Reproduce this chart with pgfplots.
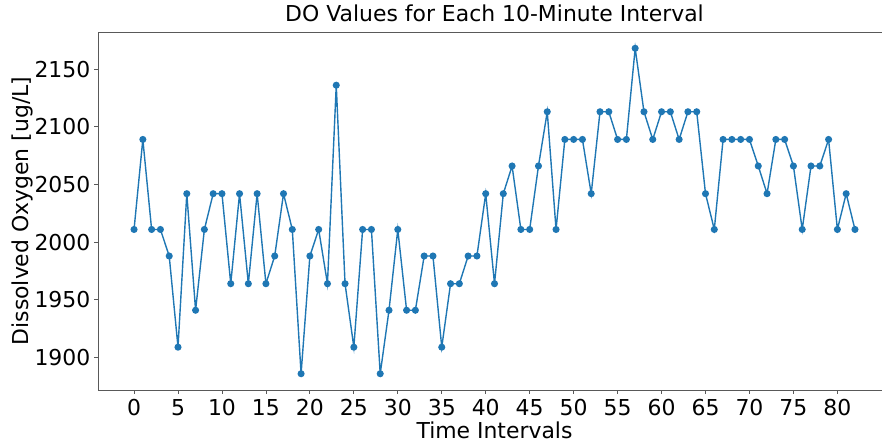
\documentclass[border=0pt]{standalone}
\usepackage{fontspec}
\setmainfont{DejaVu Sans}
\usepackage{pgfplots}
\pgfplotsset{compat=1.18}
\definecolor{mplblue}{HTML}{1F77B4}
\definecolor{spine}{gray}{0.35}
\begin{document}
\begin{tikzpicture}
\begin{axis}[
  at={(0,0)}, anchor=south west,
  scale only axis,
  width=793bp, height=358bp,
  xmin=-4.1, xmax=86.1,
  ymin=1871.9, ymax=2182.1,
  xtick={0,5,...,80},
  ytick={1900,1950,...,2150},
  tick align=outside,
  xtick pos=bottom, ytick pos=left,
  major tick length=3.5bp,
  tick style={spine, line width=0.8bp},
  axis line style={spine, line width=0.8bp},
  /pgf/number format/assume math mode=true,
  /pgf/number format/1000 sep={},
  ticklabel style={font=\fontsize{22}{26}\selectfont},
  xticklabel style={inner sep=0pt, anchor=north, yshift=-6bp},
  yticklabel style={inner sep=0pt, anchor=east, xshift=-4bp},
  title={DO Values for Each 10-Minute Interval},
  title style={font=\fontsize{22}{26}\selectfont, at={(axis description cs:0.5,1)}, anchor=base, inner sep=0pt, yshift=5bp},
  xlabel={Time Intervals},
  xlabel style={font=\fontsize{22}{26}\selectfont, at={(axis description cs:0.5,0)}, anchor=base, inner sep=0pt, yshift=-48bp},
  ylabel={Dissolved Oxygen [ug/L]},
  ylabel style={font=\fontsize{22}{26}\selectfont, at={(axis description cs:0,0.5)}, anchor=south, inner sep=0pt, yshift=65bp},
]
\addplot[mplblue, line width=1.4bp, mark=*, mark size=2.8bp, mark options={solid, fill=mplblue, draw=mplblue}] table {
x y
0 2011
1 2089
2 2011
3 2011
4 1988
5 1909
6 2042
7 1941
8 2011
9 2042
10 2042
11 1964
12 2042
13 1964
14 2042
15 1964
16 1988
17 2042
18 2011
19 1886
20 1988
21 2011
22 1964
23 2136
24 1964
25 1909
26 2011
27 2011
28 1886
29 1941
30 2011
31 1941
32 1941
33 1988
34 1988
35 1909
36 1964
37 1964
38 1988
39 1988
40 2042
41 1964
42 2042
43 2066
44 2011
45 2011
46 2066
47 2113
48 2011
49 2089
50 2089
51 2089
52 2042
53 2113
54 2113
55 2089
56 2089
57 2168
58 2113
59 2089
60 2113
61 2113
62 2089
63 2113
64 2113
65 2042
66 2011
67 2089
68 2089
69 2089
70 2089
71 2066
72 2042
73 2089
74 2089
75 2066
76 2011
77 2066
78 2066
79 2089
80 2011
81 2042
82 2011
};
\end{axis}
\pgfresetboundingbox
\path[use as bounding box] (-98bp,-54bp) rectangle (784bp,390bp);
\end{tikzpicture}
\end{document}
